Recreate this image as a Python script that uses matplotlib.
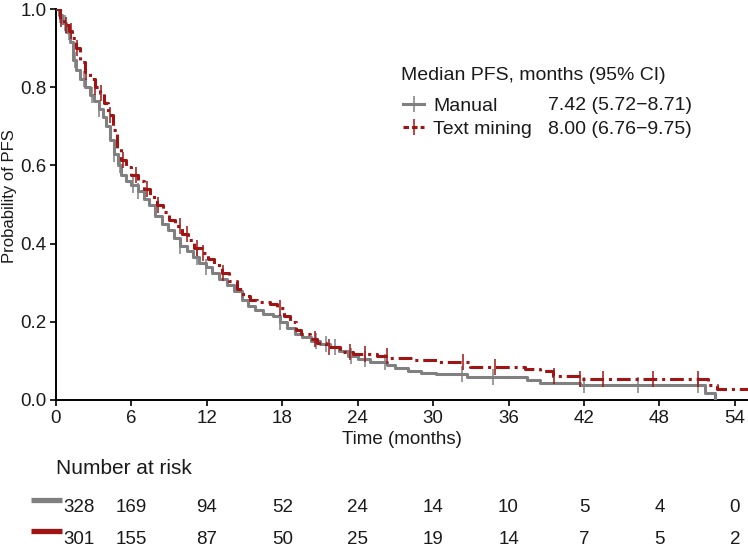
import numpy as np
import matplotlib
matplotlib.use("Agg")
import matplotlib.pyplot as plt
from matplotlib.lines import Line2D
import matplotlib.transforms as mtransforms

plt.rcParams['font.family'] = ['Liberation Sans', 'DejaVu Sans']

# ---------------- data ----------------
series_names = ["Manual", "Text mining"]
median_ci = ["7.42 (5.72\u22128.71)", "8.00 (6.76\u22129.75)"]

manual_t = [0, 0.25, 0.5, 0.8, 1.1, 1.35, 1.6, 1.9, 2.3, 2.7, 3.0, 3.4, 3.7, 4.0, 4.3,
            4.6, 4.9, 5.2, 5.6, 6.0, 6.5, 7.0, 7.42, 7.9, 8.4, 8.9, 9.4, 9.9, 10.4,
            10.9, 11.4, 11.9, 12.4, 13.0, 13.6, 14.2, 14.8, 15.3, 15.8, 16.5, 17.3,
            17.8, 18.4, 19.0, 19.6, 20.3, 21.0, 21.8, 22.5, 23.2, 24.0, 25.0, 26.3,
            27.0, 28.0, 29.0, 30.2, 32.7, 37.5, 38.5, 41.7, 51.6, 52.4]
manual_s = [1.0, 0.985, 0.965, 0.94, 0.915, 0.87, 0.845, 0.82, 0.80, 0.78, 0.765, 0.745,
            0.725, 0.70, 0.665, 0.63, 0.60, 0.575, 0.56, 0.55, 0.535, 0.515, 0.50, 0.47,
            0.45, 0.435, 0.415, 0.395, 0.38, 0.365, 0.35, 0.34, 0.325, 0.31, 0.295, 0.28,
            0.255, 0.24, 0.23, 0.22, 0.215, 0.20, 0.185, 0.17, 0.16, 0.15, 0.142, 0.135,
            0.125, 0.112, 0.105, 0.098, 0.09, 0.083, 0.075, 0.07, 0.066, 0.059, 0.05,
            0.043, 0.038, 0.018, 0.0]
manual_cens = [0.3, 0.7, 1.0, 1.5, 2.2, 2.9, 3.4, 4.6, 5.1, 6.1, 6.5, 9.9, 11.2, 11.9,
               17.8, 20.7, 21.5, 22.2, 23.5, 24.6, 26.2, 32.3, 34.8, 42.0, 46.3, 51.1]

text_t = [0, 0.3, 0.6, 1.0, 1.3, 1.6, 1.9, 2.3, 2.7, 3.1, 3.5, 3.8, 4.1, 4.5, 4.85, 5.2,
          5.6, 6.0, 6.5, 7.0, 7.5, 8.0, 8.5, 9.0, 9.5, 10.0, 10.5, 11.0, 11.6, 12.1, 12.6,
          13.2, 13.8, 14.4, 14.9, 15.4, 16.0, 17.0, 17.6, 18.1, 18.6, 19.1, 19.5, 20.2,
          20.8, 21.5, 22.6, 23.6, 25.5, 26.6, 28.5, 30.5, 32.9, 37.3, 38.5, 39.5, 41.7,
          51.9, 52.6]
text_s = [1.0, 0.975, 0.96, 0.945, 0.925, 0.90, 0.865, 0.84, 0.82, 0.80, 0.785, 0.76,
          0.73, 0.69, 0.645, 0.615, 0.595, 0.575, 0.56, 0.54, 0.52, 0.50, 0.48, 0.46,
          0.445, 0.425, 0.41, 0.39, 0.375, 0.36, 0.345, 0.325, 0.305, 0.285, 0.265, 0.255,
          0.25, 0.245, 0.235, 0.215, 0.20, 0.18, 0.168, 0.155, 0.145, 0.135, 0.123, 0.118,
          0.112, 0.107, 0.103, 0.098, 0.085, 0.08, 0.073, 0.061, 0.054, 0.038, 0.028]
text_cens = [0.4, 0.8, 1.2, 1.7, 2.4, 3.1, 3.6, 4.3, 5.3, 6.4, 7.2, 8.1, 9.9, 10.4, 11.2,
             11.7, 13.3, 17.8, 20.6, 21.7, 23.4, 24.6, 26.3, 32.4, 34.9, 39.6, 41.7,
             43.5, 47.5, 51.1]

risk_times = [0, 6, 12, 18, 24, 30, 36, 42, 48, 54]
risk_manual = [328, 169, 94, 52, 24, 14, 10, 5, 4, 0]
risk_text = [301, 155, 87, 50, 25, 19, 14, 7, 5, 2]

x_ticks = [0, 6, 12, 18, 24, 30, 36, 42, 48, 54]
y_ticks = [0.0, 0.2, 0.4, 0.6, 0.8, 1.0]

# ---------------- style ----------------
GRAY = "#808080"
RED = "#A11414"
TXT = "#1a1a1a"
LW = 2.2
DASH = (0, (4.5, 1.6, 1.0, 1.6))
FS_TICK = 13.5
FS_LEG = 14
FS_HEAD = 15
FS_YLAB = 12

W, H = 748, 555
AX_L, AX_R, AX_T, AX_B = 56, 748, 9, 400

fig = plt.figure(figsize=(W / 100, H / 100), dpi=100)
ax = fig.add_axes([AX_L / W, 1 - AX_B / H, (AX_R - AX_L) / W, (AX_B - AX_T) / H])
XMAX = 55.05
ax.set_xlim(0, XMAX)
ax.set_ylim(0, 1.0)


def fx(px):
    return (px - AX_L) / (AX_R - AX_L)


def fy(py):
    return (AX_B - py) / (AX_B - AX_T)


def step_value(times, surv, t):
    idx = np.searchsorted(np.asarray(times), t, side="right") - 1
    return np.asarray(surv)[idx]


# manual
ax.step(manual_t, manual_s, where="post", color=GRAY, lw=LW, solid_capstyle="butt",
        zorder=3)
ax.plot(manual_cens, step_value(manual_t, manual_s, manual_cens), ls="none",
        marker="|", ms=11, mew=1.1, color=GRAY, zorder=3)

# text mining (extends to end of follow-up)
tt = list(text_t) + [XMAX]
ts = list(text_s) + [text_s[-1]]
ax.step(tt, ts, where="post", color=RED, lw=LW, ls=DASH, zorder=4)
ax.plot(text_cens, step_value(text_t, text_s, text_cens), ls="none",
        marker="|", ms=11, mew=1.1, color=RED, zorder=4)

ax.set_xticks(x_ticks)
ax.set_xticklabels([str(v) for v in x_ticks])
ax.set_yticks(y_ticks)
ax.set_yticklabels([f"{v:.1f}" for v in y_ticks])
ax.tick_params(labelsize=FS_TICK, length=4, width=1.2, pad=3, colors="black",
               labelcolor=TXT)
for s in ["top", "right"]:
    ax.spines[s].set_visible(False)
for s in ["left", "bottom"]:
    ax.spines[s].set_linewidth(1.4)
ax.set_xlabel("Time (months)", fontsize=FS_TICK, labelpad=3, color=TXT)
ax.set_ylabel("Probability of PFS", fontsize=FS_YLAB, color=TXT)
ax.yaxis.set_label_coords(fx(17), fy(196.5))

# legend
ax.text(fx(401), fy(75), "Median PFS, months (95% CI)", ha="left", va="center",
        fontsize=FS_LEG, color=TXT, transform=ax.transAxes)
handles = [
    Line2D([], [], color=GRAY, lw=LW, marker="|", ms=11, mew=1.1),
    Line2D([], [], color=RED, lw=LW, ls=(0, (1.8, 1.0)), marker="|", ms=11, mew=1.1),
]
leg = ax.legend(handles, series_names, loc="center left",
                bbox_to_anchor=(fx(403), fy(117.5)), frameon=False,
                fontsize=FS_LEG, handlelength=1.1, handletextpad=0.45,
                labelspacing=0.25, borderpad=0, borderaxespad=0, numpoints=1)
for txt in leg.get_texts():
    txt.set_color(TXT)

for ci, py in zip(median_ci, [106, 129]):
    ax.text(fx(548), fy(py), ci, ha="left", va="center", fontsize=FS_LEG, color=TXT,
            transform=ax.transAxes)

# number at risk table
trans = mtransforms.blended_transform_factory(ax.transData, fig.transFigure)
fig.text(0, 1 - 468 / H, "Number at risk", transform=trans, ha="left", va="center",
         fontsize=FS_HEAD, color=TXT)
rows = [(risk_manual, GRAY, 1 - 508 / H), (risk_text, RED, 1 - 539 / H)]
for vals, col, yy in rows:
    for i, (t, v) in enumerate(zip(risk_times, vals)):
        if i == 0:
            fig.text(t + 0.6, yy, str(v), transform=trans, ha="left", va="center",
                     fontsize=FS_TICK, color=TXT)
        else:
            fig.text(t, yy, str(v), transform=trans, ha="center", va="center",
                     fontsize=FS_TICK, color=TXT)
    fig.add_artist(Line2D([31 / W, 62 / W], [yy + 8 / H, yy + 8 / H],
                          transform=fig.transFigure, color=col, lw=3.8,
                          solid_capstyle="butt"))

fig.savefig("out.png", dpi=100)
